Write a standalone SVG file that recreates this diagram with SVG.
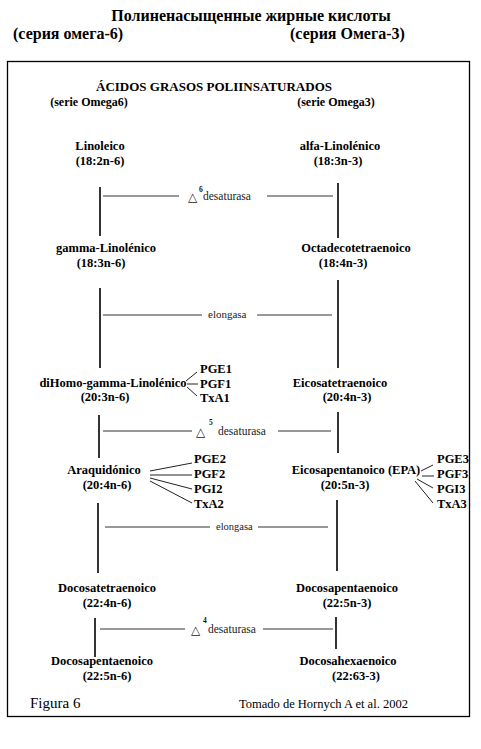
<svg xmlns="http://www.w3.org/2000/svg" width="481" height="749" viewBox="0 0 481 749">
<style>
text{font-family:"Liberation Serif","Times New Roman",serif;fill:#000}
.t{font-size:16px;font-weight:bold}
.h{font-size:13px;font-weight:bold}
.n{font-size:12.5px;font-weight:bold;text-anchor:middle}
.p{font-size:12.5px;font-weight:bold}
.e{font-size:11.5px;fill:#222}
.d{font-size:12px;font-family:"DejaVu Sans",sans-serif;fill:#222}
.s{font-size:7.5px;font-weight:bold;fill:#111}
.v{stroke:#000;stroke-width:1.6;fill:none}
.hl{stroke:#333;stroke-width:1;fill:none}
.pl{stroke:#222;stroke-width:1;fill:none}
</style>
<rect width="481" height="749" fill="#fff"/>
<g id="header">
<text class="t" x="251" y="21" text-anchor="middle">Полиненасыщенные жирные кислоты</text>
<text class="t" x="13" y="39">(серия омега-6)</text>
<text class="t" x="290" y="39">(серия Омега-3)</text>
</g>
<rect x="7.5" y="61.5" width="462" height="655" fill="none" stroke="#000" stroke-width="1.3"/>
<g id="subtitle">
<text class="h" x="214" y="91" text-anchor="middle">ÁCIDOS GRASOS POLIINSATURADOS</text>
<text class="h" x="89" y="106" text-anchor="middle" style="font-size:12px">(serie Omega6)</text>
<text class="h" x="336" y="106" text-anchor="middle" style="font-size:12px">(serie Omega3)</text>
</g>
<g id="connectors">
<line class="v" x1="100" y1="187" x2="100" y2="236"/>
<line class="v" x1="338" y1="183" x2="338" y2="238"/>
<line class="v" x1="100" y1="288" x2="100" y2="368"/>
<line class="v" x1="338" y1="280" x2="338" y2="368"/>
<line class="v" x1="99" y1="415" x2="99" y2="458"/>
<line class="v" x1="338" y1="412" x2="338" y2="453"/>
<line class="v" x1="98" y1="503" x2="98" y2="573"/>
<line class="v" x1="337" y1="500" x2="337" y2="571"/>
<line class="v" x1="95" y1="618" x2="95" y2="657"/>
<line class="v" x1="336" y1="617" x2="336" y2="649"/>
<line class="hl" x1="103" y1="196" x2="179" y2="196"/>
<line class="hl" x1="267" y1="196" x2="333" y2="196"/>
<line class="hl" x1="103" y1="315" x2="202" y2="315"/>
<line class="hl" x1="257" y1="315" x2="332" y2="315"/>
<line class="hl" x1="103" y1="431" x2="192" y2="431"/>
<line class="hl" x1="278" y1="431" x2="331" y2="431"/>
<line class="hl" x1="105" y1="527" x2="210" y2="527"/>
<line class="hl" x1="258" y1="527" x2="328" y2="527"/>
<line class="hl" x1="100" y1="629" x2="185" y2="629"/>
<line class="hl" x1="263" y1="629" x2="333" y2="629"/>
<line class="pl" x1="186" y1="381" x2="197" y2="372"/>
<line class="pl" x1="187" y1="384" x2="198" y2="384"/>
<line class="pl" x1="187" y1="387" x2="197" y2="396"/>
<line class="pl" x1="150" y1="471" x2="192" y2="463"/>
<line class="pl" x1="150" y1="475" x2="192" y2="475"/>
<line class="pl" x1="150" y1="478" x2="192" y2="489"/>
<line class="pl" x1="150" y1="481" x2="192" y2="503"/>
<line class="pl" x1="421" y1="471" x2="433" y2="465"/>
<line class="pl" x1="422" y1="476" x2="434" y2="476"/>
<line class="pl" x1="417" y1="479" x2="433" y2="488"/>
<line class="pl" x1="415" y1="481" x2="433" y2="503"/>
</g>
<g id="enzyme-d6">
<text class="d" x="188" y="201">△</text>
<text class="s" x="199" y="192">6</text>
<text class="e" x="203" y="200">desaturasa</text>
</g>
<g id="enzyme-elongasa1">
<text class="e" x="208" y="318" style="font-size:11px">elongasa</text>
</g>
<g id="enzyme-d5">
<text class="d" x="196" y="436">△</text>
<text class="s" x="209" y="425">5</text>
<text class="e" x="218" y="435">desaturasa</text>
</g>
<g id="enzyme-elongasa2">
<text class="e" x="216" y="530" style="font-size:10.5px">elongasa</text>
</g>
<g id="enzyme-d4">
<text class="d" x="191" y="634">△</text>
<text class="s" x="203" y="623">4</text>
<text class="e" x="208" y="633">desaturasa</text>
</g>
<g id="linoleico"><text class="n" x="100" y="150">Linoleico</text><text class="n" x="100" y="165">(18:2n-6)</text></g>
<g id="alfa-linolenico"><text class="n" x="340" y="150">alfa-Linolénico</text><text class="n" x="338" y="165">(18:3n-3)</text></g>
<g id="gamma-linolenico"><text class="n" x="106" y="252">gamma-Linolénico</text><text class="n" x="101" y="267">(18:3n-6)</text></g>
<g id="octadecotetraenoico"><text class="n" x="356" y="252">Octadecotetraenoico</text><text class="n" x="343" y="267">(18:4n-3)</text></g>
<g id="dihomo"><text class="n" x="113" y="387">diHomo-gamma-Linolénico</text><text class="n" x="105" y="401">(20:3n-6)</text></g>
<g id="pg1"><text class="p" x="200" y="373">PGE1</text><text class="p" x="200" y="388">PGF1</text><text class="p" x="200" y="402">TxA1</text></g>
<g id="eicosatetraenoico"><text class="n" x="340" y="387">Eicosatetraenoico</text><text class="n" x="347" y="401">(20:4n-3)</text></g>
<g id="araquidonico"><text class="n" x="104" y="474">Araquidónico</text><text class="n" x="107" y="489">(20:4n-6)</text></g>
<g id="pg2"><text class="p" x="194" y="463">PGE2</text><text class="p" x="194" y="478">PGF2</text><text class="p" x="194" y="493">PGI2</text><text class="p" x="194" y="508">TxA2</text></g>
<g id="epa"><text class="n" x="356" y="474">Eicosapentanoico (EPA)</text><text class="n" x="345" y="489">(20:5n-3)</text></g>
<g id="pg3"><text class="p" x="437" y="463">PGE3</text><text class="p" x="437" y="478">PGF3</text><text class="p" x="437" y="493">PGI3</text><text class="p" x="437" y="508">TxA3</text></g>
<g id="docosatetraenoico"><text class="n" x="107" y="592">Docosatetraenoico</text><text class="n" x="107" y="607">(22:4n-6)</text></g>
<g id="docosapentaenoico-n3"><text class="n" x="347" y="592">Docosapentaenoico</text><text class="n" x="347" y="607">(22:5n-3)</text></g>
<g id="docosapentaenoico-n6"><text class="n" x="102" y="665">Docosapentaenoico</text><text class="n" x="107" y="680">(22:5n-6)</text></g>
<g id="docosahexaenoico"><text class="n" x="348" y="665">Docosahexaenoico</text><text class="n" x="356" y="680">(22:63-3)</text></g>
<g id="footer">
<text x="30" y="708" style="font-size:15px">Figura 6</text>
<text x="239" y="708" style="font-size:12.5px">Tomado de Hornych A et al. 2002</text>
</g>
</svg>
